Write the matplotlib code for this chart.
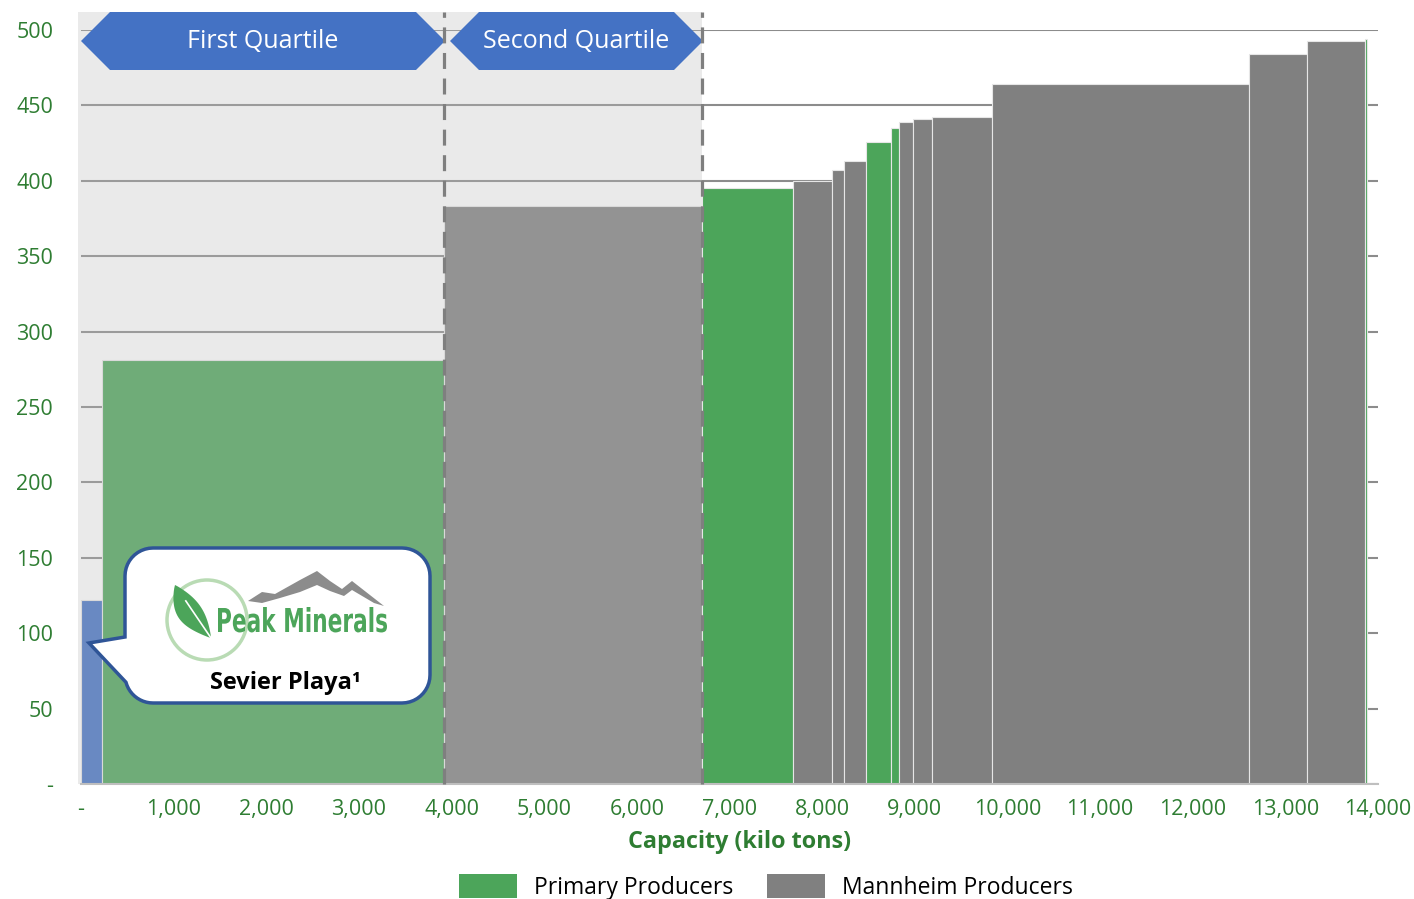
import matplotlib.pyplot as plt
import matplotlib.transforms as mtransforms
from matplotlib.patches import Polygon, PathPatch, Circle, Patch
from matplotlib.path import Path
from matplotlib.textpath import TextPath
from matplotlib.font_manager import FontProperties
import numpy as np

plt.rcParams['font.family'] = ['Open Sans', 'DejaVu Sans']

# capacity (kilo tons) and cost per producer, left to right
widths = [222, 3697, 2784, 978, 422, 129, 238, 270, 92, 152, 205, 643, 2773, 633, 621, 27]
costs = [122, 281, 383, 395, 400, 407, 413, 426, 435, 439, 441, 442, 464, 484, 493, 494]
groups = ['Sevier', 'Primary', 'Mannheim', 'Primary', 'Mannheim', 'Mannheim', 'Mannheim',
          'Primary', 'Primary', 'Mannheim', 'Mannheim', 'Mannheim', 'Mannheim', 'Mannheim',
          'Mannheim', 'Primary']
quartiles = [3919, 6703]
quartile_names = ['First Quartile', 'Second Quartile']

colors = {'Sevier': '#4472C4', 'Primary': '#4CA55A', 'Mannheim': '#808080'}
tick_green = '#2E7D32'

fig = plt.figure(figsize=(14.14, 8.99), dpi=100)
ax = fig.add_axes([81/1414, 1-784/899, (1378-81)/1414, (784-30)/899])

lefts = np.concatenate([[0], np.cumsum(widths)[:-1]])
ax.bar(lefts, costs, width=widths, align='edge',
       color=[colors[g] for g in groups], edgecolor='#e6e6e6', linewidth=0.8, zorder=2)

ax.set_xlim(0, 14000)
ax.set_ylim(0, 500)
xt = np.arange(0, 14001, 1000)
ax.set_xticks(xt)
ax.set_xticklabels(['-' if v == 0 else f'{v:,}' for v in xt])
yt = np.arange(0, 501, 50)
ax.set_yticks(yt)
ax.set_yticklabels(['-' if v == 0 else str(v) for v in yt])
ax.tick_params(axis='both', length=0, colors=tick_green, labelsize=15.5)
ax.tick_params(axis='y', pad=20)
ax.tick_params(axis='x', pad=11)
ax.yaxis.grid(True, color='#8c8c8c', linewidth=1.5, zorder=0)
ax.set_axisbelow(True)
for s in ['top', 'right', 'left']:
    ax.spines[s].set_visible(False)
ax.spines['bottom'].set_color('#bfbfbf')
ax.spines['bottom'].set_linewidth(1.5)
ax.set_xlabel('Capacity (kilo tons)', fontsize=16.8, fontweight='bold', color=tick_green)
ax.xaxis.set_label_coords(0.508, -0.061)
ax.xaxis.label.set_va('top')

# shaded first/second quartile area
ax.axvspan(-30, quartiles[1], ymin=0, ymax=1.024, color='#bebebe', alpha=0.31,
           linewidth=0, clip_on=False, zorder=3)
for q in quartiles:
    ax.axvline(q, ymin=0, ymax=1.024, color='#7f7f7f', linewidth=2.3,
               linestyle=(0, (5, 3)), clip_on=False, zorder=5)

# pixel transform (origin top-left) for the annotation shapes
px = mtransforms.Affine2D().scale(1/1414, -1/899).translate(0, 1) + fig.transFigure

# quartile banners
banner_px = [(81, 445), (450, 703)]
for (x0, x1), name in zip(banner_px, quartile_names):
    pts = [(x0, 41), (x0+29, 12), (x1-29, 12), (x1, 41), (x1-29, 70), (x0+29, 70)]
    ax.add_patch(Polygon(pts, closed=True, facecolor='#4472C4', edgecolor='none',
                         transform=px, clip_on=False, zorder=4))
    ax.text((x0+x1)/2, 42, name, transform=px, color='white', fontsize=18,
            ha='center', va='center', zorder=4.5)

# callout box
L, R, T, B, r = 125, 430, 548, 703, 28
verts = [(89, 643), (L, 637)]
def arc(cx, cy, a0, a1):
    a = np.radians(np.linspace(a0, a1, 12))
    return list(zip(cx + r*np.cos(a), cy + r*np.sin(a)))
verts += arc(L+r, T+r, 180, 270)
verts += arc(R-r, T+r, 270, 360)
verts += arc(R-r, B-r, 0, 90)
verts += arc(L+r, B-r, 90, 165)
verts.append((89, 643))
codes = [Path.MOVETO] + [Path.LINETO]*(len(verts)-2) + [Path.CLOSEPOLY]
ax.add_patch(PathPatch(Path(verts, codes), facecolor='white', edgecolor='#2F5597',
                       linewidth=2.5, transform=px, clip_on=False, zorder=6))

# logo
ax.add_patch(Circle((207, 620), 40, facecolor='none', edgecolor='#b9dbb4', linewidth=2.5,
                    transform=px, clip_on=False, zorder=7))
p0 = np.array([175, 585.0]); p1 = np.array([211, 638.0])
d = p1 - p0; n = np.array([-d[1], d[0]]) / np.hypot(*d)
t = np.linspace(0, 1, 30)
side1 = p0 + np.outer(t, d) + np.outer(18 * np.sin(np.pi*t)**0.9 * (1 - 0.3*t), n)
side2 = p0 + np.outer(t, d) - np.outer(9 * np.sin(np.pi*t)**0.9, n)
leaf = np.vstack([side1, side2[::-1]])
ax.add_patch(Polygon(leaf, closed=True, facecolor='#4CA55A', edgecolor='none',
                     transform=px, clip_on=False, zorder=7))
ax.plot([p0[0]+d[0]*0.3, p1[0]], [p0[1]+d[1]*0.3, p1[1]], color='white', lw=1.2,
        transform=px, clip_on=False, zorder=7.2)
mountain = [(248, 601), (262, 592), (275, 594), (300, 580), (317, 571), (330, 581),
            (342, 589), (352, 581), (384, 606), (374, 603), (352, 590), (344, 596),
            (330, 591), (317, 585), (300, 592), (280, 598), (262, 603)]
ax.add_patch(Polygon(mountain, closed=True, facecolor='#8c8c8c', edgecolor='none',
                     transform=px, clip_on=False, zorder=7))
tp = TextPath((0, 0), 'Peak Minerals', size=30,
              prop=FontProperties(family='DejaVu Sans', weight='bold'))
ext = tp.get_extents()
sx = 169 / ext.width
sy = 25 / ext.y1
tp = mtransforms.Affine2D().translate(-ext.x0, 0).scale(sx, -sy).translate(218, 632).transform_path(tp)
ax.add_patch(PathPatch(tp, facecolor='#4CA55A', edgecolor='none', transform=px,
                       clip_on=False, zorder=7.5))
ax.text(285, 689, 'Sevier Playa\u00b9', transform=px, color='black', fontsize=17,
        fontweight='bold', ha='center', va='baseline', zorder=7.5)

handles = [Patch(facecolor=colors['Primary']), Patch(facecolor=colors['Mannheim'])]
fig.legend(handles, ['Primary Producers', 'Mannheim Producers'], ncol=2, frameon=False,
           loc='center', bbox_to_anchor=(766/1414, 1-887/899), fontsize=16.5,
           handlelength=2.5, handleheight=1.25, handletextpad=0.75, columnspacing=1.5)

fig.savefig('out.png', dpi=100)
